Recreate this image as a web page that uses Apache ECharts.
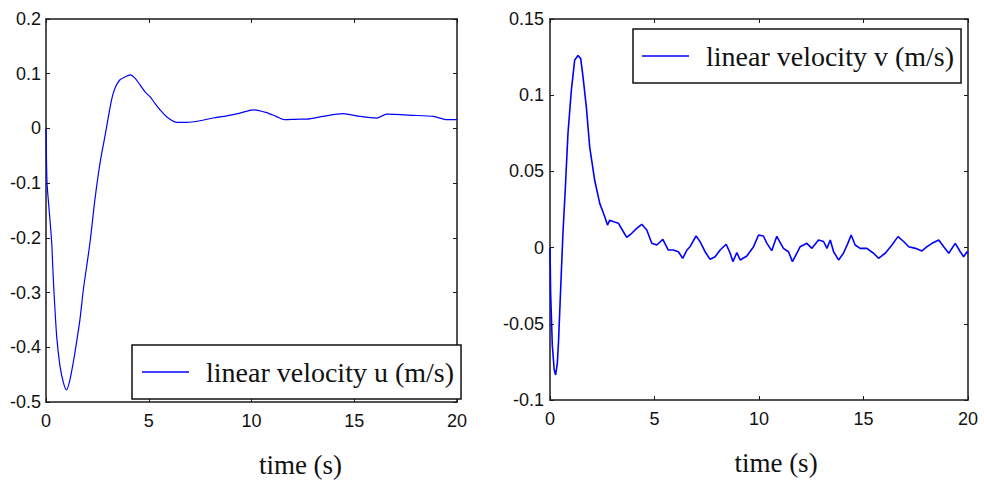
<!DOCTYPE html>
<html>
<head>
<meta charset="utf-8">
<script src="https://cdn.jsdelivr.net/npm/echarts@6/dist/echarts.min.js"></script>
<style>
html,body{margin:0;padding:0;background:#fff;}
#chart{width:984px;height:483px;}
</style>
</head>
<body>
<div id="chart"></div>
<script>
// ---- data ----
const tU = [0,0.02,0.05,0.11,0.2,0.28,0.32,0.39,0.52,0.68,0.85,1.0,1.15,1.33,1.49,1.65,1.82,2.14,2.38,2.63,2.87,3.19,3.36,3.6,3.84,4.09,4.33,4.57,4.82,5.06,5.3,5.55,5.88,6.37,6.85,7.5,8.13,8.8,9.44,10.08,10.73,11.2,11.6,12.36,12.68,13.48,14.45,15.28,16.09,16.58,17.88,18.85,19.5,20];
const uVals = [0,-0.05,-0.1,-0.13,-0.17,-0.21,-0.245,-0.30,-0.38,-0.434,-0.465,-0.478,-0.462,-0.427,-0.39,-0.35,-0.294,-0.209,-0.13,-0.063,-0.014,0.052,0.074,0.089,0.094,0.098,0.092,0.08,0.067,0.058,0.046,0.034,0.021,0.011,0.011,0.014,0.019,0.023,0.028,0.034,0.029,0.022,0.016,0.017,0.017,0.022,0.027,0.022,0.019,0.026,0.024,0.022,0.016,0.016];

const tV = [0,0.03,0.11,0.2,0.27,0.35,0.41,0.54,0.62,0.73,0.86,1.02,1.18,1.34,1.47,1.58,1.74,1.9,2.14,2.38,2.62,2.75,2.86,3.05,3.27,3.51,3.67,3.91,4.15,4.39,4.63,4.87,5.11,5.4,5.66,5.9,6.14,6.35,6.55,6.7,6.99,7.18,7.42,7.66,7.9,8.14,8.43,8.62,8.75,8.94,9.1,9.42,9.74,9.98,10.21,10.38,10.61,10.85,11.17,11.41,11.6,11.81,11.97,12.29,12.53,12.85,13.09,13.25,13.41,13.57,13.81,14.04,14.25,14.41,14.6,14.84,15.16,15.48,15.72,16.04,16.36,16.65,16.92,17.16,17.48,17.8,18.04,18.28,18.6,18.84,19.08,19.39,19.63,19.79,19.95,20];
const vVals = [0,-0.03,-0.064,-0.08,-0.0836,-0.076,-0.061,-0.017,0.0096,0.038,0.075,0.103,0.123,0.126,0.124,0.112,0.092,0.066,0.044,0.029,0.0203,0.0148,0.018,0.017,0.016,0.0104,0.0067,0.0094,0.0126,0.0153,0.0115,0.0028,0.0017,0.0054,-0.0016,-0.0016,-0.0027,-0.007,-0.0016,0.0006,0.0076,0.0039,-0.0027,-0.0077,-0.006,-0.0016,0.0022,-0.0037,-0.0092,-0.0033,-0.0081,-0.0055,0.0006,0.0083,0.0076,0.0028,-0.002,0.0074,-0.0005,-0.0027,-0.0092,-0.0037,0.0006,0.0028,-0.0005,0.005,0.004,-0.0005,0.005,-0.0027,-0.0081,-0.0037,0.0028,0.0083,0.0017,-0.0005,-0.0005,-0.0037,-0.007,-0.0037,0.0017,0.0072,0.004,0.0006,-0.0005,-0.0022,0.0006,0.0028,0.005,0.0006,-0.0037,0.0028,-0.0027,-0.006,-0.0027,-0.004];

const nameU = 'linear velocity u (m/s)';
const nameV = 'linear velocity v (m/s)';
const xTitle = 'time (s)';
const xTicks = {min: 0, max: 20, interval: 5};
const yTicksU = {min: -0.5, max: 0.2, interval: 0.1};
const yTicksV = {min: -0.1, max: 0.15, interval: 0.05};

// ---- chart ----
const axisLine = {show: true, onZero: false, lineStyle: {color: '#1a1a1a', width: 1.5}};
const tick = {show: true, inside: true, length: 4, lineStyle: {color: '#1a1a1a', width: 1}};
const labelFont = {fontFamily: "Liberation Sans Narrow, Liberation Sans, Arial, sans-serif", fontSize: 18, color: '#111'};
const serif = "Liberation Serif, Times New Roman, serif";

function xAx(grid, bottom, shift) {
  const a = Object.assign({type: 'value', gridIndex: grid, position: bottom ? 'bottom' : 'top',
    axisLine: axisLine, axisTick: tick, splitLine: {show: false}}, xTicks);
  if (bottom) {
    a.axisLabel = Object.assign({margin: 10}, labelFont);
    a.name = xTitle;
    a.nameLocation = 'middle';
    a.nameGap = 49;
    a.nameTextStyle = {fontFamily: serif, fontSize: 27, color: '#111', padding: [0, 0, 0, shift]};
  } else {
    a.axisLabel = {show: false};
  }
  return a;
}
function yAx(grid, left, ticks, margin) {
  const a = Object.assign({type: 'value', gridIndex: grid, position: left ? 'left' : 'right',
    axisLine: axisLine, axisTick: tick, splitLine: {show: false}}, ticks);
  a.axisLabel = left ? Object.assign({margin: margin}, labelFont) : {show: false};
  return a;
}

function legendFor(name, left, top, padLeft) {
  return {
    data: [name],
    left: left, top: top,
    padding: [13, 7, 13, padLeft],
    orient: 'horizontal',
    backgroundColor: '#fff',
    borderColor: '#111',
    borderWidth: 1.5,
    borderRadius: 0,
    icon: 'rect',
    itemWidth: 47,
    itemHeight: 1.3,
    itemGap: 12,
    formatter: '{t|{name}}',
    textStyle: {
      fontFamily: serif, fontSize: 28, color: '#111',
      rich: {t: {fontFamily: serif, fontSize: 28, color: '#111', padding: [0, 0, 0, 12]}}
    }
  };
}

const option = {
  animation: false,
  backgroundColor: '#fff',
  grid: [
    {left: 46, top: 19, width: 411, height: 384},
    {left: 550, top: 19, width: 418, height: 381}
  ],
  xAxis: [xAx(0, true, 98), xAx(0, false), xAx(1, true, 34), xAx(1, false)],
  yAxis: [yAx(0, true, yTicksU, 5), yAx(0, false, yTicksU), yAx(1, true, yTicksV, 6), yAx(1, false, yTicksV)],
  legend: [legendFor(nameU, 132, 345, 10), legendFor(nameV, 633, 29, 9)],
  series: [
    {name: nameU, type: 'line', xAxisIndex: 0, yAxisIndex: 0, symbol: 'none', smooth: 0.25,
      lineStyle: {color: '#0000ff', width: 1.2}, itemStyle: {color: '#0000ff'},
      data: tU.map((t, i) => [t, uVals[i]])},
    {name: nameV, type: 'line', xAxisIndex: 2, yAxisIndex: 2, symbol: 'none',
      lineStyle: {color: '#0000ff', width: 1.6}, itemStyle: {color: '#0000ff'},
      data: tV.map((t, i) => [t, vVals[i]])}
  ]
};

const chart = echarts.init(document.getElementById('chart'), null, {renderer: 'svg'});
chart.setOption(option);
</script>
</body>
</html>
